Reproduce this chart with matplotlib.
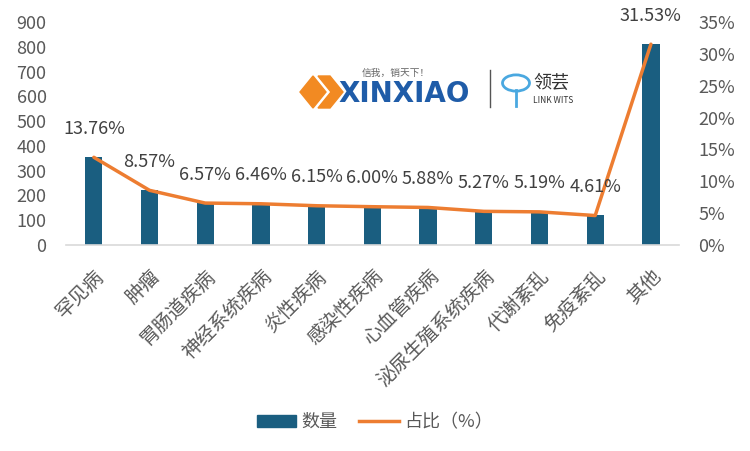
import numpy as np
import matplotlib.pyplot as plt
from matplotlib.patches import Polygon, Circle
from matplotlib.lines import Line2D

plt.rcParams['font.family'] = ['Noto Sans CJK SC', 'DejaVu Sans']

# data
categories = ["罕见病", "肿瘤", "胃肠道疾病", "神经系统疾病", "炎性疾病", "感染性疾病",
              "心血管疾病", "泌尿生殖系统疾病", "代谢紊乱", "免疫紊乱", "其他"]
counts = [354, 221, 169, 166, 158, 155, 151, 136, 134, 119, 812]
share = [13.76, 8.57, 6.57, 6.46, 6.15, 6.00, 5.88, 5.27, 5.19, 4.61, 31.53]

bar_color = "#1a5e80"
line_color = "#ed7d31"
text_color = "#595959"

fig = plt.figure(figsize=(7.5, 4.51), dpi=100)
ax = fig.add_axes([0.088, 0.457, 0.817, 0.494])
x = np.arange(len(categories))

ax.bar(x, counts, width=0.31, color=bar_color, zorder=2)
ax.set_xlim(-0.5, 10.5)
ax.set_ylim(0, 900)
ax.set_yticks(np.arange(0, 901, 100))
ax.set_xticks(x)
ax.set_xticklabels(categories, rotation=45, ha="right", rotation_mode="anchor")
ax.tick_params(axis="x", length=0, pad=15, labelsize=14, colors=text_color)
ax.tick_params(axis="y", length=0, pad=14, labelsize=13, colors=text_color)
for s in ["top", "right", "left"]:
    ax.spines[s].set_visible(False)
ax.spines["bottom"].set_color("#d9d9d9")
ax.spines["bottom"].set_linewidth(1.2)

ax2 = ax.twinx()
ax2.plot(x, share, color=line_color, lw=2.5, zorder=3, solid_capstyle="round")
ax2.set_ylim(0, 35)
ax2.set_yticks(np.arange(0, 36, 5))
ax2.set_yticklabels([f"{v}%" for v in range(0, 36, 5)])
ax2.tick_params(axis="y", length=0, pad=14, labelsize=13, colors=text_color)
for s in ["top", "right", "left", "bottom"]:
    ax2.spines[s].set_visible(False)

for xi, v in zip(x, share):
    ax2.annotate(f"{v:.2f}%", (xi, v), xytext=(0, 14), textcoords="offset points",
                 ha="center", va="bottom", fontsize=13, color="#404040")

# legend
handles = [plt.Rectangle((0, 0), 1, 1, color=bar_color),
           Line2D([0], [0], color=line_color, lw=2.5)]
fig.legend(handles, ["数量", "占比（%）"], loc="center", bbox_to_anchor=(0.5, 0.064),
           ncol=2, frameon=False, fontsize=13, labelcolor=text_color,
           handlelength=2.2, handleheight=0.6, columnspacing=1.2, handletextpad=0.3)

# watermark logo (approximation)
def fx(px):
    return px / 750

def fy(py):
    return 1 - py / 451

orange = "#f28a22"
blue = "#1f5ca8"
fig.patches.append(Polygon([(fx(300), fy(92)), (fx(313), fy(76)), (fx(326), fy(92)),
                            (fx(313), fy(108))], closed=True, color=orange,
                           transform=fig.transFigure, figure=fig))
fig.patches.append(Polygon([(fx(318), fy(76)), (fx(330), fy(76)), (fx(343), fy(92)),
                            (fx(330), fy(108)), (fx(318), fy(108)), (fx(331), fy(92))],
                           closed=True, color=orange, transform=fig.transFigure, figure=fig))
fig.text(fx(338), fy(94), "XINXIAO", color=blue, fontsize=20, fontweight="bold",
         family="DejaVu Sans", va="center", ha="left")
fig.text(fx(362), fy(73), "信我，销天下！", color="#666666", fontsize=7, va="center", ha="left")
fig.lines.append(Line2D([fx(490), fx(490)], [fy(70), fy(107)], color="#555555", lw=1,
                        transform=fig.transFigure, figure=fig))
fig.patches.append(Circle((fx(516), fy(83)), 0.018, fill=False, ec="#4aa8e0", lw=2,
                          transform=fig.transFigure, figure=fig))
fig.lines.append(Line2D([fx(516), fx(516)], [fy(90), fy(106)], color="#4aa8e0", lw=2,
                        transform=fig.transFigure, figure=fig))
fig.text(fx(533), fy(83), "领芸", color="#333333", fontsize=13, va="center", ha="left")
fig.text(fx(533), fy(101), "LINK WITS", color="#333333", fontsize=6, va="center", ha="left")

fig.savefig("out.png", dpi=100)
